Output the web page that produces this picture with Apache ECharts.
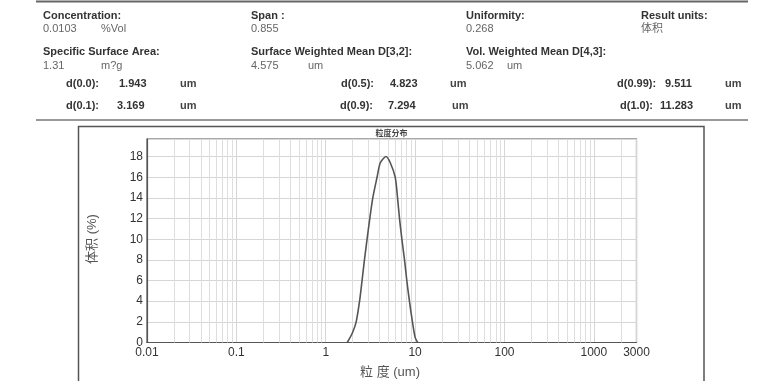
<!DOCTYPE html>
<html>
<head>
<meta charset="utf-8">
<script src="https://cdn.jsdelivr.net/npm/echarts@6/dist/echarts.min.js"></script>
<style>
html,body{margin:0;padding:0;background:#fff;}
#chart{width:784px;height:381px;}
</style>
</head>
<body>
<div id="chart"></div>
<script>
// ---- Data ----
const headerLabels = ['Concentration:', 'Span :', 'Uniformity:', 'Result units:',
  'Specific Surface Area:', 'Surface Weighted Mean D[3,2]:', 'Vol. Weighted Mean D[4,3]:'];
const headerValues = ['0.0103', '0.855', '0.268', '体积', '1.31', '4.575', '5.062'];
const headerUnits = ['%Vol', '', '', '', 'm?g', 'um', 'um'];
const percentileLabels = ['d(0.0):', 'd(0.5):', 'd(0.99):', 'd(0.1):', 'd(0.9):', 'd(1.0):'];
const percentileValues = ['1.943', '4.823', '9.511', '3.169', '7.294', '11.283'];
const percentileUnits = ['um', 'um', 'um', 'um', 'um', 'um'];

const chartTitle = '粒度分布';
const xAxisName = '粒 度 (um)';
const yAxisName = '体积 (%)';

// particle size (um) and volume (%)
const sizes = [1.74, 1.98, 2.19, 2.39, 2.55, 2.71, 2.90, 3.11, 3.36, 3.75, 4.08, 4.72, 5.27, 5.99, 6.36, 6.69, 7.11, 7.61, 8.07, 8.64, 9.33, 10.0, 10.7];
const volumes = [0, 0.9, 2.0, 4.0, 6.0, 8.0, 10.0, 12.0, 14.0, 16.0, 17.4, 18.0, 17.4, 16.0, 14.0, 12.0, 10.0, 8.0, 6.0, 4.0, 2.0, 0.5, 0];

const xMin = 0.01, xMax = 3000;
const yMin = 0, yMax = 19.7, yStep = 2;
const decades = [0.01, 0.1, 1, 10, 100, 1000];
const minorMultipliers = [2, 3, 4, 5, 6, 7, 8, 9];

// ---- Layout (positions only) ----
const FONT = '"Liberation Sans", Arial, "Noto Sans CJK SC", sans-serif';
const headerLabelPos = [[43, 15.5], [251, 15.5], [466, 15.5], [641, 15.5], [43, 52], [251, 52], [466, 52]];
const headerValuePos = [[43, 29], [251, 29], [466, 29], [641, 29], [43, 66], [251, 66], [466, 66]];
const headerUnitPos = [[101, 29], null, null, null, [101, 66], [308, 66], [507, 66]];
const pctLabelPos = [[66, 84], [341, 84], [617, 84], [66, 106], [340, 106], [620, 106]];
const pctValuePos = [[119, 84], [390, 84], [665, 84], [117, 106], [388, 106], [660, 106]];
const pctUnitPos = [[180, 84], [450, 84], [725, 84], [180, 106], [452, 106], [725, 106]];

const graphics = [];
function txt(text, pos, opts) {
  graphics.push({
    type: 'text', x: pos[0], y: pos[1], silent: true,
    style: Object.assign({text: text, fill: '#333', fontSize: 11, fontFamily: FONT,
      align: 'left', verticalAlign: 'middle'}, opts || {})
  });
}
headerLabels.forEach((t, i) => txt(t, headerLabelPos[i], {fontWeight: 'bold', fill: '#333'}));
headerValues.forEach((t, i) => txt(t, headerValuePos[i], {fill: '#666'}));
headerUnits.forEach((t, i) => { if (t) txt(t, headerUnitPos[i], {fill: '#666'}); });
percentileLabels.forEach((t, i) => txt(t, pctLabelPos[i], {fontWeight: 'bold', fill: '#333'}));
percentileValues.forEach((t, i) => txt(t, pctValuePos[i], {fontWeight: 'bold', fill: '#333'}));
percentileUnits.forEach((t, i) => txt(t, pctUnitPos[i], {fontWeight: 'bold', fill: '#444'}));

// rules and frame
graphics.push({type: 'line', silent: true, shape: {x1: 36, y1: 1.5, x2: 748, y2: 1.5}, style: {stroke: '#666', lineWidth: 2}});
graphics.push({type: 'line', silent: true, shape: {x1: 36, y1: 120, x2: 748, y2: 120}, style: {stroke: '#777', lineWidth: 1.3}});
graphics.push({type: 'rect', silent: true, shape: {x: 78.5, y: 126.5, width: 625.5, height: 270}, style: {fill: 'none', stroke: '#555', lineWidth: 1.5}});
// title & axis names
txt(chartTitle, [391.5, 133.5], {align: 'center', fontSize: 8, fontWeight: 'bold', fill: '#444'});
txt(xAxisName, [390, 372], {align: 'center', fontSize: 13, fill: '#555'});
graphics.push({
  type: 'text', x: 92, y: 239, rotation: Math.PI / 2, silent: true,
  style: {text: yAxisName, fill: '#555', fontSize: 13, fontFamily: FONT, align: 'center', verticalAlign: 'middle'}
});

const minorLines = [];
decades.forEach(d => minorMultipliers.forEach(m => {
  const v = d * m;
  if (v < xMax) minorLines.push({xAxis: v});
}));

const chart = echarts.init(document.getElementById('chart'), null, {renderer: 'canvas'});
chart.setOption({
  animation: false,
  backgroundColor: '#fff',
  textStyle: {fontFamily: FONT},
  grid: {left: 147, right: 147.5, top: 139, bottom: 38.5, show: true, borderColor: '#555', borderWidth: 1.2, backgroundColor: 'transparent'},
  xAxis: {
    type: 'log', logBase: 10, min: xMin, max: xMax,
    axisLine: {show: true, lineStyle: {color: '#555', width: 1.2}},
    axisTick: {show: false},
    axisLabel: {color: '#333', fontSize: 12, margin: 4, formatter: v => String(+(+v).toPrecision(6))},
    splitLine: {show: true, lineStyle: {color: '#d6d6d6', width: 1}}
  },
  yAxis: {
    type: 'value', min: yMin, max: yMax, interval: yStep,
    axisLine: {show: true, lineStyle: {color: '#555', width: 1.2}},
    axisTick: {show: false},
    axisLabel: {color: '#333', fontSize: 12, margin: 4, formatter: v => (v % yStep === 0 ? String(v) : '')},
    splitLine: {show: true, lineStyle: {color: '#d6d6d6', width: 1}}
  },
  series: [
    {
      type: 'line', data: [], z: 1, silent: true,
      markLine: {silent: true, symbol: 'none', label: {show: false}, animation: false,
        lineStyle: {color: '#dedede', type: 'solid', width: 1}, data: minorLines}
    },
    {
      type: 'line', z: 5, smooth: 0.25, symbol: 'none',
      lineStyle: {color: '#555', width: 1.6},
      data: sizes.map((s, i) => [s, volumes[i]])
    }
  ],
  graphic: graphics
});
</script>
</body>
</html>
